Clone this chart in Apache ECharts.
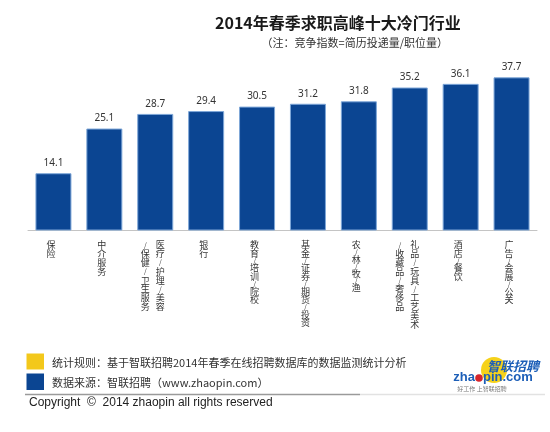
<!DOCTYPE html>
<html>
<head>
<meta charset="utf-8">
<script src="https://cdn.jsdelivr.net/npm/echarts@6/dist/echarts.min.js"></script>
<style>
html,body{margin:0;padding:0;background:#fff;}
#main{width:550px;height:432px;}
</style>
</head>
<body>
<div id="main"></div>
<script>
const titleText = '2014年春季求职高峰十大冷门行业';
const subtitleText = '（注：竞争指数=简历投递量/职位量）';
const categories = ['保险', '中介服务', '医疗/护理/美容/保健/卫生服务', '银行', '教育/培训/院校',
  '基金/证券/期货/投资', '农/林/牧/渔', '礼品/玩具/工艺美术/收藏品/奢侈品', '酒店/餐饮', '广告/会展/公关'];
const values = [14.1, 25.1, 28.7, 29.4, 30.5, 31.2, 31.8, 35.2, 36.1, 37.7];
const legendTexts = ['统计规则：基于智联招聘2014年春季在线招聘数据库的数据监测统计分析', '数据来源：智联招聘（www.zhaopin.com）'];
const copyrightText = 'Copyright  ©  2014 zhaopin all rights reserved';

const CJK = '"Noto Sans CJK SC", "Noto Sans", sans-serif';

function verticalLabel(name) {
  const chars = [...name];
  const slashIdx = [];
  chars.forEach((c, i) => { if (c === '/') slashIdx.push(i); });
  let cols;
  if (slashIdx.length >= 4) {
    const k = slashIdx[2];
    cols = [chars.slice(k), chars.slice(0, k)]; // left column, right column
  } else {
    cols = [chars];
  }
  const n = Math.max(...cols.map(c => c.length));
  const lines = [];
  for (let i = 0; i < n; i++) {
    lines.push(cols.map(c => {
      const ch = c[i];
      if (!ch) return '{c| }';
      return ch === '/' ? '{s|/}' : '{c|' + ch + '}';
    }).join(''));
  }
  return lines.join('\n');
}

const chart = echarts.init(document.getElementById('main'));
chart.setOption({
  backgroundColor: '#ffffff',
  animation: false,
  title: {
    text: titleText,
    left: 210,
    top: 10,
    textStyle: { fontFamily: CJK, fontSize: 16, fontWeight: 'bold', color: '#1a1a1a' }
  },
  grid: { left: 28, right: 13, top: 68, bottom: 201.5 },
  xAxis: {
    type: 'category',
    data: categories,
    axisTick: { show: false },
    axisLine: { lineStyle: { color: '#c4c4c4', width: 1 } },
    axisLabel: {
      interval: 0,
      margin: 10,
      padding: [0, 5, 0, 0],
      color: '#333',
      formatter: verticalLabel,
      rich: {
        c: { width: 15, align: 'center', fontSize: 9, lineHeight: 8.8, fontFamily: CJK, color: '#333' },
        s: { width: 15, align: 'center', fontSize: 7, lineHeight: 5.5, fontFamily: CJK, color: '#333' }
      }
    }
  },
  yAxis: {
    type: 'value',
    min: 0,
    max: 40,
    show: false,
    splitLine: { show: false }
  },
  series: [{
    type: 'bar',
    data: values,
    barWidth: 36,
    itemStyle: { color: '#0b4592', borderColor: '#7ea7d8', borderWidth: 1 },
    label: {
      show: true,
      position: 'top',
      distance: 5,
      fontSize: 10,
      color: '#333',
      fontFamily: '"Noto Sans", sans-serif'
    }
  }],
  graphic: [
    { type: 'text', x: 448, y: 43,
      style: { text: subtitleText, align: 'right', verticalAlign: 'middle', fontSize: 11, fontFamily: CJK, fill: '#333' } },
    { type: 'rect', shape: { x: 26.5, y: 353.5, width: 17.5, height: 16 }, style: { fill: '#f3c81b' } },
    { type: 'rect', shape: { x: 26.5, y: 373.5, width: 17.5, height: 16.5 }, style: { fill: '#0b4592' } },
    { type: 'text', x: 52, y: 362.5,
      style: { text: legendTexts[0], verticalAlign: 'middle', fontSize: 11, fontFamily: CJK, fill: '#333' } },
    { type: 'text', x: 52, y: 383.3,
      style: { text: legendTexts[1], verticalAlign: 'middle', fontSize: 11, fontFamily: CJK, fill: '#333' } },
    { type: 'line', shape: { x1: 25, y1: 394.5, x2: 360, y2: 394.5 }, style: { stroke: '#9a9a9a', lineWidth: 1.5 } },
    { type: 'line', shape: { x1: 360, y1: 394.5, x2: 545, y2: 394.5 }, style: { stroke: '#e2e2e2', lineWidth: 1.5 } },
    { type: 'text', x: 29, y: 403,
      style: { text: copyrightText, verticalAlign: 'middle', fontSize: 12, fontFamily: '"Liberation Sans", sans-serif', fill: '#222' } },
    // logo
    { type: 'circle', shape: { cx: 494, cy: 370, r: 13 }, style: { fill: '#f6d21a' } },
    { type: 'text', x: 539, y: 366,
      style: { text: '智联招聘', align: 'right', verticalAlign: 'middle', fontSize: 13, fontWeight: 'bold', fontStyle: 'italic', fontFamily: CJK, fill: '#1d5fb8' } },
    { type: 'text', x: 475, y: 377.5,
      style: { text: 'zha', align: 'right', verticalAlign: 'middle', fontSize: 13, fontWeight: 'bold', fontFamily: '"Liberation Sans", sans-serif', fill: '#1d5fb8' } },
    { type: 'circle', shape: { cx: 479, cy: 378, r: 3.8 }, style: { fill: '#d7262c' } },
    { type: 'text', x: 483, y: 377.5,
      style: { text: 'pin.com', align: 'left', verticalAlign: 'middle', fontSize: 13, fontWeight: 'bold', fontFamily: '"Liberation Sans", sans-serif', fill: '#1d5fb8' } },
    { type: 'text', x: 482, y: 388.5,
      style: { text: '好工作 上智联招聘', align: 'center', verticalAlign: 'middle', fontSize: 6, fontFamily: CJK, fill: '#777' } }
  ]
});
</script>
</body>
</html>
